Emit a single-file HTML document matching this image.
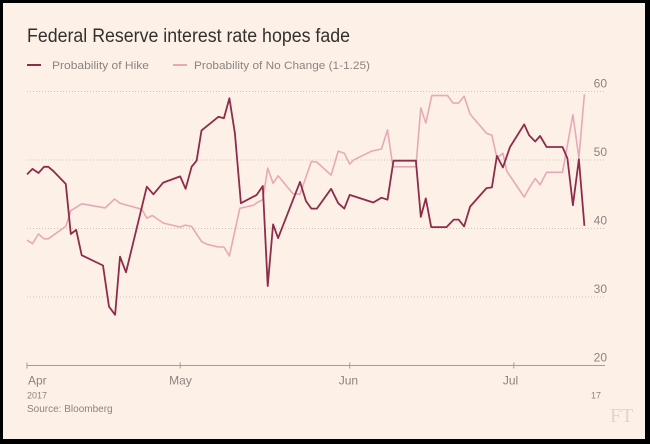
<!DOCTYPE html>
<html><head><meta charset="utf-8"><style>
html,body{margin:0;padding:0;}
body{width:650px;height:444px;background:#000;overflow:hidden;font-family:"Liberation Sans",sans-serif;}
#card{position:absolute;left:3px;top:3px;width:642px;height:436px;background:#fdf0e6;}
</style></head><body>
<div id="card">
<svg id="chart" width="642" height="436" viewBox="3 3 642 436" style="position:absolute;left:0;top:0">
<text x="27" y="42" font-size="19" fill="#33302e" textLength="323" lengthAdjust="spacingAndGlyphs">Federal Reserve interest rate hopes fade</text>
<g>
<line x1="27" y1="65" x2="41" y2="65" stroke="#8e2c4b" stroke-width="2"/>
<text x="52" y="69" font-size="11" fill="#8a8580" textLength="97" lengthAdjust="spacingAndGlyphs">Probability of Hike</text>
<line x1="173" y1="65" x2="187" y2="65" stroke="#e6aab7" stroke-width="2"/>
<text x="194" y="69" font-size="11" fill="#8a8580" textLength="176" lengthAdjust="spacingAndGlyphs">Probability of No Change (1-1.25)</text>
</g>
<g id="grid"></g><g id="series"></g><g id="xaxis"></g>
<text x="27" y="412" font-size="10" fill="#8a8580">Source: Bloomberg</text>
<text x="610" y="422" font-size="20" fill="#e0d6cf" font-family="Liberation Serif,serif">FT</text>
</svg>
</div>
<script>
// days since 2017-04-03
const hikeDays=[0,1,2.1,3.1,3.9,4.8,6,7.1,8,9,10,13.9,15,16.1,17,18.1,21.9,23.1,24.9,28,29,30.1,31,31.9,35,36,37,38,39.1,42,43.1,44,45,45.9,49.9,51,52,53,55.6,56.9,58,59,63.3,64.8,65.9,67,71.1,72,72.9,73.9,76.7,78,78.9,79.9,81,84,85,85.9,87,88.3,90.9,91.8,92.9,93.8,95,97.9,98.8,99.8,100.9,101.9];
const hikeVals=[47.9,48.7,48.1,49,49,48.4,47.4,46.5,39.2,39.8,36.1,34.6,28.6,27.4,35.9,33.6,46.1,45,46.7,47.6,45.8,49,49.9,54.3,56.3,56.1,59,53.9,43.7,44.9,46.2,31.6,40.6,38.6,46.8,44,42.9,42.9,45.8,43.7,42.9,44.9,43.8,44.5,44.2,49.9,49.9,41.7,44.4,40.2,40.2,41.3,41.3,40.3,43.2,45.9,46,50.6,48.9,51.9,55.2,53.6,52.7,53.5,51.9,51.9,50.25,43.4,50.1,40.4];
const ncDays=[0,1,2.1,3.1,3.9,7.1,8,10,14.3,16,17,21,21.9,22.9,24.9,28,28.9,30.1,31.9,32.9,35,36,37,38.9,41.4,42.1,43.1,44,45,45.9,48.6,49.9,52,53,55.6,56.9,58,59,59.7,61.5,63,64.8,65.9,66.9,71.1,72,72.9,74,76.9,77.9,78.9,79.9,81,84,85,85.9,87,87.7,90.9,91.8,92.9,93.8,95,97.9,99.8,100.9,101.9];
const ncVals=[38.3,37.8,39.2,38.5,38.5,40.3,42.6,43.6,43,44.3,43.7,42.8,41.5,41.9,40.8,40.2,40.5,40.3,38.1,37.7,37.3,37.3,36,42.95,43.4,43.8,44.2,48.8,46.6,47.7,45.1,45,49.8,49.7,47.8,51.3,51,49.4,50,50.7,51.3,51.6,54.4,49,49,57.6,55.4,59.4,59.4,58.3,58.3,59.3,56.7,53.9,53.6,50.3,51,48.4,44.6,45.9,47.3,46.4,48.2,48.2,56.6,50.3,59.6];
const yTicks=[60,50,40,30,20];
const monthLabels=["Apr","May","Jun","Jul"];
const monthDays=[0,28,59,89];
const NS="http://www.w3.org/2000/svg";
function xs(d){return 27+d*5.47;}
function ys(v){return 91.5+(60-v)*6.85;}
function mk(tag,attrs,parent){const e=document.createElementNS(NS,tag);for(const k in attrs)e.setAttribute(k,attrs[k]);parent.appendChild(e);return e;}
const grid=document.getElementById('grid');
yTicks.forEach(function(t){
  if(t!==20){
    const l=mk('line',{x1:27,x2:605,y1:ys(t),y2:ys(t),stroke:'#cfc6bd','stroke-width':1,'stroke-dasharray':'1,2'},grid);
    
    
  }
  const tx=mk('text',{x:607,y:ys(t)-4,'font-size':12,fill:'#8a8580','text-anchor':'end'},grid);
  tx.textContent=t;
  
  
});
const xa=document.getElementById('xaxis');
const ax=mk('line',{x1:27,x2:605,y1:ys(20),y2:ys(20),stroke:'#a59d96','stroke-width':1},xa);


monthDays.forEach(function(d,i){
  const x=i===0?27:xs(d);
  const tk=mk('line',{x1:x,x2:x,y1:ys(20)-3,y2:ys(20)+3,stroke:'#a59d96'},xa);
  
  
  const t=mk('text',{x:x+(i===0?1:-11),y:ys(20)+19,'font-size':12,fill:'#8a8580'},xa);
  t.textContent=monthLabels[i];
  
  
});
const y1=mk('text',{x:27,y:ys(20)+33,'font-size':9,fill:'#8a8580'},xa);y1.textContent='2017';


const y2=mk('text',{x:591,y:ys(20)+33,'font-size':9,fill:'#8a8580'},xa);y2.textContent='17';


const sg=document.getElementById('series');
function path(days,vals){return days.map(function(d,i){return (i?'L':'M')+xs(d).toFixed(1)+','+ys(vals[i]).toFixed(1);}).join('');}
const p1=mk('path',{d:path(ncDays,ncVals),fill:'none',stroke:'#e6aab7','stroke-width':1.6,'stroke-linejoin':'round'},sg);


const p2=mk('path',{d:path(hikeDays,hikeVals),fill:'none',stroke:'#8e2c4b','stroke-width':1.8,'stroke-linejoin':'round'},sg);


</script>
</body></html>
